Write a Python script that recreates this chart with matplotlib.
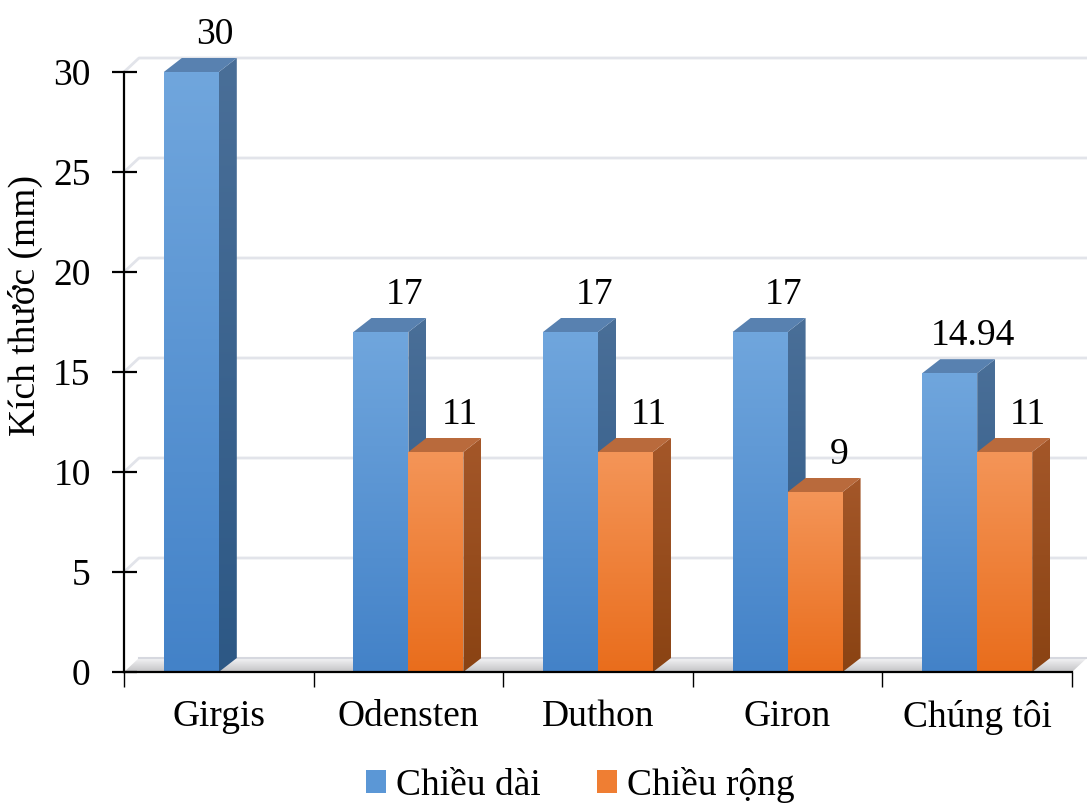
import numpy as np
import matplotlib
matplotlib.use("Agg")
import matplotlib.pyplot as plt
from matplotlib.patches import Polygon, Patch
from matplotlib.colors import to_rgb

# ---- data ----
categories = ["Girgis", "Odensten", "Duthon", "Giron", "Chúng tôi"]
chieu_dai = [30, 17, 17, 17, 14.94]
chieu_rong = [np.nan, 11, 11, 9, 11]
series_names = ["Chiều dài", "Chiều rộng"]
y_label = "Kích thước (mm)"
y_ticks = [0, 5, 10, 15, 20, 25, 30]

plt.rcParams["font.family"] = ["Liberation Serif", "DejaVu Serif"]
FS = 27

W, H, DPI = 1087, 806, 100
fig = plt.figure(figsize=(W / DPI, H / DPI), dpi=DPI)

PX_CAT = 189.6   # pixels per category slot
PX_UNIT = 20.0   # pixels per mm
ax = fig.add_axes([124 / W, 134 / H, 963 / W, 672 / H])
ax.set_xlim(0, 963 / PX_CAT)
ax.set_ylim(0, 672 / PX_UNIT)

# depth of the 3-D effect, converted to data units
bar_dx, bar_dy = 18 / PX_CAT, 14 / PX_UNIT
wall_dx, wall_dy = 15 / PX_CAT, 14 / PX_UNIT
n = len(categories)


def grad_fill(verts, top, bottom, z):
    poly = Polygon(verts, closed=True, facecolor="none", edgecolor="none")
    ax.add_patch(poly)
    xs = [v[0] for v in verts]
    ys = [v[1] for v in verts]
    g = np.linspace(0, 1, 256)[:, None, None]
    c0 = np.array(to_rgb(top))[None, None, :]
    c1 = np.array(to_rgb(bottom))[None, None, :]
    img = c0 * (1 - g) + c1 * g
    im = ax.imshow(img, extent=[min(xs), max(xs), min(ys), max(ys)],
                   origin="upper", aspect="auto", zorder=z,
                   interpolation="bilinear")
    im.set_clip_path(poly)


# floor slab
floor = [(0, 0), (n, 0), (n + wall_dx, wall_dy), (wall_dx, wall_dy)]
grad_fill(floor, "#f4f4f6", "#c2c2c4", 1)
ax.plot([wall_dx, n + wall_dx], [wall_dy, wall_dy], color="#d6d8df", lw=1.5, zorder=1.1)

# back-wall gridlines
for v in y_ticks[1:]:
    ax.plot([0, wall_dx, n + wall_dx], [v, v + wall_dy, v + wall_dy],
            color="#e2e4ea", lw=2.0, zorder=1.2, solid_capstyle="butt")

styles = [
    dict(front=("#70a6dd", "#4382c8"), side=("#4a6f98", "#2d5885"), top="#5881b0"),
    dict(front=("#f49558", "#e96d1c"), side=("#a45729", "#8a4313"), top="#b96a3c"),
]
bar_w = 0.29
z = 3
for i in range(n):
    for s, vals in enumerate([chieu_dai, chieu_rong]):
        h = vals[i]
        if np.isnan(h):
            continue
        x0 = i + 0.5 - bar_w + s * bar_w
        x1 = x0 + bar_w
        st = styles[s]
        grad_fill([(x1, 0), (x1, h), (x1 + bar_dx, h + bar_dy), (x1 + bar_dx, bar_dy)],
                  st["side"][0], st["side"][1], z)
        ax.add_patch(Polygon([(x0, h), (x1, h), (x1 + bar_dx, h + bar_dy), (x0 + bar_dx, h + bar_dy)],
                             closed=True, facecolor=st["top"], edgecolor="none", zorder=z + 0.1))
        grad_fill([(x0, 0), (x1, 0), (x1, h), (x0, h)], st["front"][0], st["front"][1], z + 0.2)
        ax.annotate(f"{h:g}", xy=((x0 + x1) / 2, h), xytext=(17, 27),
                    textcoords="offset points", ha="center", va="center",
                    fontsize=FS, color="black", zorder=20)
        z += 1

# axes styling
for side in ["top", "right"]:
    ax.spines[side].set_visible(False)
ax.spines["left"].set_bounds(0, 30)
ax.spines["bottom"].set_bounds(0, n)
for side in ["left", "bottom"]:
    ax.spines[side].set_linewidth(1.6)
    ax.spines[side].set_zorder(30)

ax.set_yticks(y_ticks)
ax.set_yticklabels([str(t) for t in y_ticks])
ax.tick_params(axis="y", direction="inout", length=18, width=1.6, labelsize=FS, pad=15)

ax.set_xticks(np.arange(n + 1))
ax.set_xticklabels([])
ax.tick_params(axis="x", which="major", direction="out", length=11, width=1.0)
ax.set_xticks(np.arange(n) + 0.5, minor=True)
ax.set_xticklabels(categories, minor=True)
ax.tick_params(axis="x", which="minor", length=0, labelsize=FS, pad=20)

fig.text(25 / W, 1 - 305 / H, y_label, rotation=90, ha="center", va="center", fontsize=FS)

handles = [Patch(facecolor="#5b97d6", edgecolor="none"), Patch(facecolor="#ef7e33", edgecolor="none")]
fig.legend(handles=handles, labels=series_names, loc="center",
           bbox_to_anchor=(580 / W, 1 - 785 / H), ncol=2, frameon=False,
           fontsize=FS, handlelength=0.55, handleheight=0.55,
           handletextpad=0.25, columnspacing=1.5)

fig.savefig("out.png", dpi=DPI)
